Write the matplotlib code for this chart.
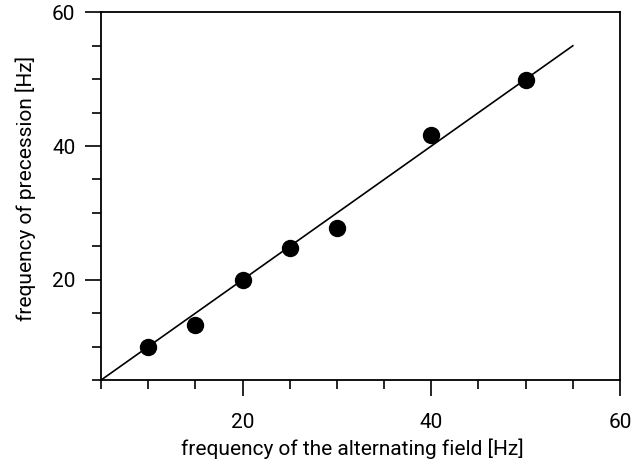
import numpy as np
import matplotlib
matplotlib.use('Agg')
import matplotlib.pyplot as plt
from matplotlib.ticker import MultipleLocator

plt.rcParams['font.family'] = ['Roboto', 'DejaVu Sans']

# measured frequencies [Hz]
f_field = np.array([10, 15, 20, 25, 30, 40, 50])
f_prec = np.array([10.0, 13.2, 20.0, 24.7, 27.8, 41.6, 49.9])

# theory line f_prec = f_field
f_line = np.array([5, 55])

fig = plt.figure(figsize=(6.32, 4.66), dpi=100)
ax = fig.add_axes([0.160, 0.1845, 0.821, 0.789])

ax.plot(f_line, f_line, 'k-', lw=1.2)
ax.plot(f_field, f_prec, 'ko', ms=11.5)

ax.set_xlim(5, 60)
ax.set_ylim(5, 60)
ax.xaxis.set_major_locator(MultipleLocator(20))
ax.xaxis.set_minor_locator(MultipleLocator(5))
ax.yaxis.set_major_locator(MultipleLocator(20))
ax.yaxis.set_minor_locator(MultipleLocator(5))
ax.tick_params(which='both', direction='out', width=1.2, labelsize=15, top=False, right=False)
ax.tick_params(which='major', length=11.5)
ax.tick_params(which='minor', length=6.5)
ax.tick_params(axis='x', which='major', pad=12)
ax.tick_params(axis='y', which='major', pad=7)
for s in ax.spines.values():
    s.set_linewidth(1.3)

ax.set_xlabel('frequency of the alternating field [Hz]', fontsize=15)
ax.set_ylabel('frequency of precession [Hz]', fontsize=15)
ax.xaxis.set_label_coords(0.484, -0.158)
ax.yaxis.set_label_coords(-0.125, 0.521)

plt.savefig('out.png', dpi=100)
